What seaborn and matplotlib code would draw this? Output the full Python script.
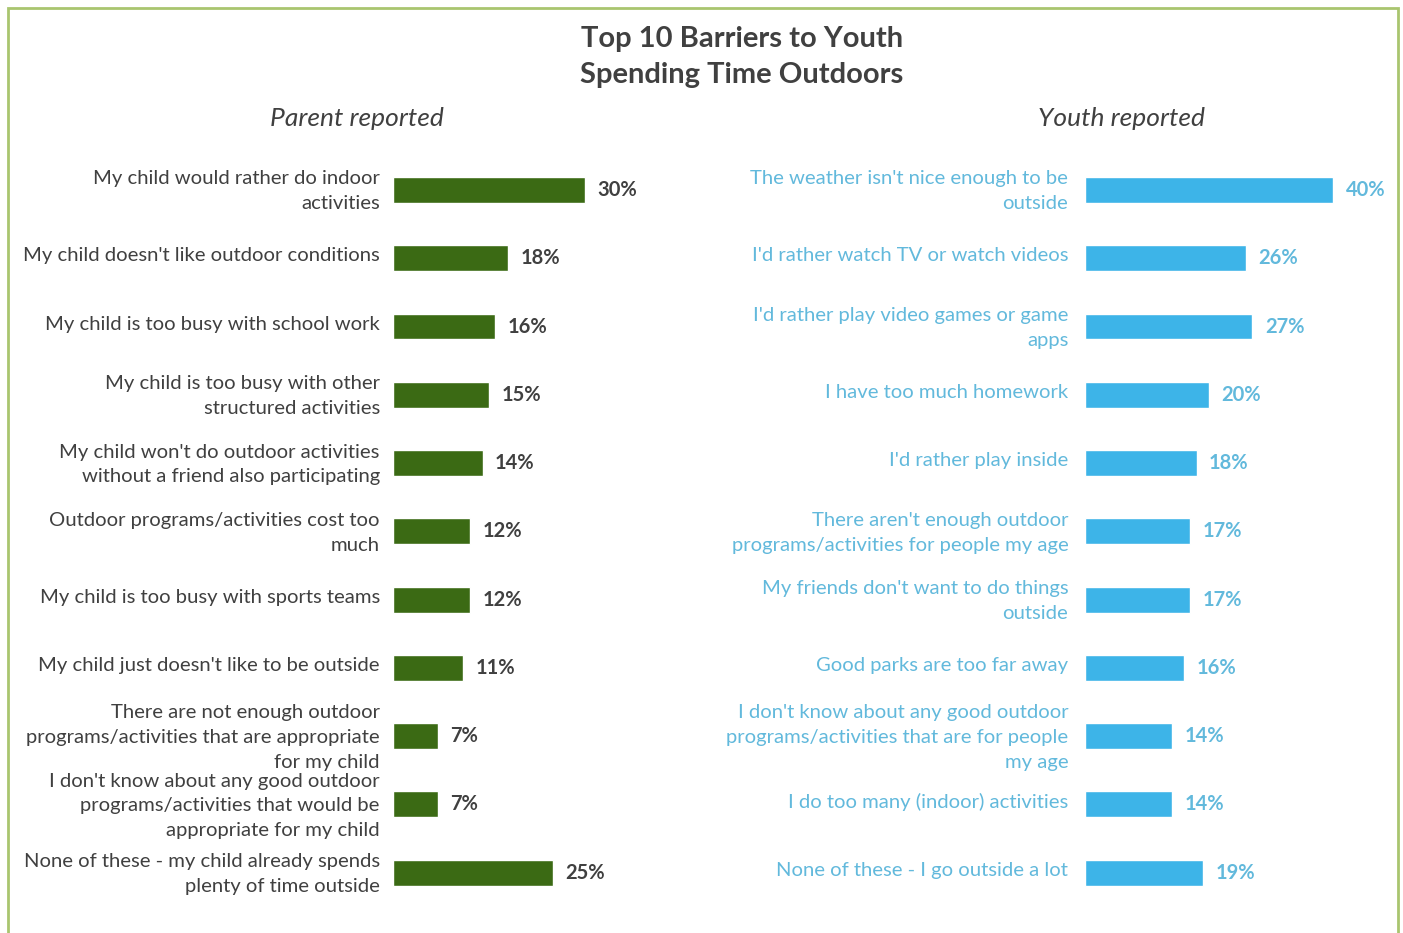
import pandas as pd
import matplotlib.pyplot as plt
import matplotlib.transforms as mtransforms
import seaborn as sns
from matplotlib.patches import Rectangle

# Data
parent_labels = [
    "My child would rather do indoor\nactivities",
    "My child doesn't like outdoor conditions",
    "My child is too busy with school work",
    "My child is too busy with other\nstructured activities",
    "My child won't do outdoor activities\nwithout a friend also participating",
    "Outdoor programs/activities cost too\nmuch",
    "My child is too busy with sports teams",
    "My child just doesn't like to be outside",
    "There are not enough outdoor\nprograms/activities that are appropriate\nfor my child",
    "I don't know about any good outdoor\nprograms/activities that would be\nappropriate for my child",
    "None of these - my child already spends\nplenty of time outside",
]
parent_values = [30, 18, 16, 15, 14, 12, 12, 11, 7, 7, 25]

youth_labels = [
    "The weather isn't nice enough to be\noutside",
    "I'd rather watch TV or watch videos",
    "I'd rather play video games or game\napps",
    "I have too much homework",
    "I'd rather play inside",
    "There aren't enough outdoor\nprograms/activities for people my age",
    "My friends don't want to do things\noutside",
    "Good parks are too far away",
    "I don't know about any good outdoor\nprograms/activities that are for people\nmy age",
    "I do too many (indoor) activities",
    "None of these - I go outside a lot",
]
youth_values = [40, 26, 27, 20, 18, 17, 17, 16, 14, 14, 19]

GREEN = "#3b6a14"
BLUE = "#3db4e8"
BLUE_TEXT = "#62b9dc"
GRAY = "#404040"

sns.set_theme(style="white")
plt.rcParams['font.family'] = ['Lato', 'DejaVu Sans']

fig = plt.figure(figsize=(14.03, 9.33), dpi=100)
fig.patch.set_facecolor("white")

# green frame round the whole chart
fig.patches.append(Rectangle((8 / 1403, -0.01), 1390 / 1403, 1.0 - 8 / 933 + 0.01,
                             transform=fig.transFigure, fill=False,
                             edgecolor="#a9c56f", linewidth=2))

ax_p = fig.add_axes([393 / 1403, 0.028, 320 / 1403, 0.805])
ax_y = fig.add_axes([1085 / 1403, 0.028, 310 / 1403, 0.805])

df_p = pd.DataFrame({"label": parent_labels, "value": parent_values})
df_y = pd.DataFrame({"label": youth_labels, "value": youth_values})

sns.barplot(data=df_p, x="value", y="label", orient="h", color=GREEN,
            width=0.38, ax=ax_p, saturation=1)
sns.barplot(data=df_y, x="value", y="label", orient="h", color=BLUE,
            width=0.38, ax=ax_y, saturation=1)

ax_p.set_xlim(0, 50)
ax_y.set_xlim(0, 50)

# labels sit a few px above the bar centre in the original
nudge = mtransforms.ScaledTranslation(0, 4 / 100, fig.dpi_scale_trans)

for ax, txt_color, val_color, pad in [(ax_p, GRAY, GRAY, 9.5),
                                      (ax_y, BLUE_TEXT, BLUE_TEXT, 12)]:
    ax.set_xlabel("")
    ax.set_ylabel("")
    ax.set_xticks([])
    ax.set_ylim(10.5, -0.5)
    for s in ax.spines.values():
        s.set_visible(False)
    ax.set_facecolor("none")
    ax.tick_params(axis="y", length=0, pad=pad, labelsize=14.6, labelcolor=txt_color)
    for tick in ax.yaxis.get_major_ticks():
        t = tick.label1
        t.set_linespacing(1.55)
        t.set_horizontalalignment("right")
        t.set_transform(t.get_transform() + nudge)
    labels = ax.bar_label(ax.containers[0], fmt="%d%%", padding=9, fontsize=14.5,
                          fontweight="bold", color=val_color)
    for lb in labels:
        lb.set_verticalalignment("center")

fig.text(742 / 1403, 1 - 57 / 933, "Top 10 Barriers to Youth\nSpending Time Outdoors",
         ha="center", va="center", fontsize=21, fontweight="bold", color=GRAY,
         linespacing=1.5)
fig.text(357 / 1403, 1 - 118 / 933, "Parent reported", ha="center", va="center",
         fontsize=19, style="italic", color=GRAY)
fig.text(1122 / 1403, 1 - 118 / 933, "Youth reported", ha="center", va="center",
         fontsize=19, style="italic", color=GRAY)

fig.savefig("out.png", dpi=100, facecolor="white")
